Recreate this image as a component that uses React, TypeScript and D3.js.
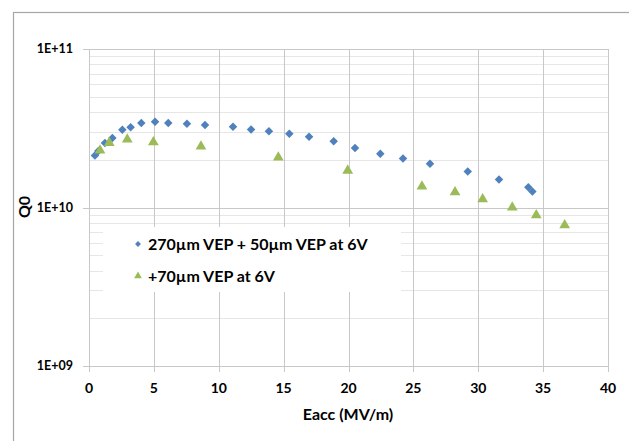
// 0- import Lib
import React from 'react';
import * as d3 from 'd3';

// 1- data: Eacc (MV/m) and Q0
const vepEacc = [
  0.46, 0.72, 1.23, 1.8, 2.57, 3.21, 4.03, 5.09, 6.11, 7.55, 8.94, 11.1, 12.49, 13.87,
  15.44, 16.96, 18.86, 20.5, 22.45, 24.2, 26.28, 29.19, 31.6, 33.86, 34.17,
];
const vepQ0 = [
  2.13e10, 2.27e10, 2.55e10, 2.74e10, 3.09e10, 3.21e10, 3.41e10, 3.47e10, 3.41e10, 3.37e10,
  3.31e10, 3.23e10, 3.1e10, 3.03e10, 2.92e10, 2.79e10, 2.62e10, 2.37e10, 2.18e10, 2.04e10,
  1.89e10, 1.69e10, 1.5e10, 1.34e10, 1.26e10,
];
const extraEacc = [0.85, 1.56, 2.95, 4.96, 8.63, 14.59, 19.94, 25.66, 28.21, 30.34, 32.62, 34.47, 36.66];
const extraQ0 = [
  2.29e10, 2.56e10, 2.69e10, 2.58e10, 2.43e10, 2.07e10, 1.71e10, 1.36e10, 1.25e10, 1.13e10,
  1.0e10, 8.94e9, 7.73e9,
];
const xTicks = [0, 5, 10, 15, 20, 25, 30, 35, 40];
const yTicks = [1e9, 1e10, 1e11];
const yTickLabels = ['1E+09', '1E+10', '1E+11'];
const seriesNames = ['270µm VEP + 50µm VEP at 6V', '+70µm VEP at 6V'];

const BLUE = '#4f81bd';
const GREEN = '#9bbb59';
const FONT = 'Lato, "Open Sans", sans-serif';

export default function App() {
  const width = 629;
  const height = 441;
  const left = 89;
  const right = 608;
  const top = 49;
  const bottom = 366;

  // A- scales
  const x = d3.scaleLinear().domain([0, 40]).range([left, right]);
  const y = d3.scaleLog().domain([1e9, 1e11]).range([bottom, top]);

  // minor log grid (2..9 in each decade)
  const minor: number[] = [];
  [1e9, 1e10].forEach((d) => {
    for (let k = 2; k <= 9; k++) minor.push(d * k);
  });

  const diamond = d3.symbol().type(d3.symbolDiamond2).size(46);
  const triangle = d3.symbol().type(d3.symbolTriangle).size(50);

  const blue = vepEacc.map((e, i) => ({ e, q: vepQ0[i] }));
  const green = extraEacc.map((e, i) => ({ e, q: extraQ0[i] }));

  return (
    <svg
      width={width}
      height={height}
      style={{ position: 'absolute', left: 0, top: 0, background: '#fff' }}
    >
      {/* chart frame */}
      <rect x={13.5} y={12.5} width={700} height={500} fill="#fff" stroke="#a6a6a6" strokeWidth={1.2} />

      {/* minor grid */}
      {minor.map((v, i) => (
        <line key={'m' + i} x1={left} x2={right} y1={Math.round(y(v)) + 0.5} y2={Math.round(y(v)) + 0.5} stroke="#e6e6e6" />
      ))}
      {/* major horizontal grid + tick marks */}
      {yTicks.map((v, i) => (
        <line key={'h' + i} x1={left - 6} x2={right} y1={Math.round(y(v)) + 0.5} y2={Math.round(y(v)) + 0.5} stroke="#c8c8c8" />
      ))}
      {/* vertical grid + tick marks */}
      {xTicks.map((t) => (
        <line key={'v' + t} x1={Math.round(x(t)) + 0.5} x2={Math.round(x(t)) + 0.5} y1={top} y2={bottom + 6} stroke="#c8c8c8" />
      ))}

      {/* tick labels */}
      {yTicks.map((v, i) => (
        <text key={'yl' + i} x={73} y={y(v)} dy="0.35em" textAnchor="end" fontFamily={FONT} fontWeight="bold" fontSize={12.5} fill="#000">
          {yTickLabels[i]}
        </text>
      ))}
      {xTicks.map((t) => (
        <text key={'xl' + t} x={x(t)} y={388} dy="0.35em" textAnchor="middle" fontFamily={FONT} fontWeight="bold" fontSize={14} fill="#000">
          {t}
        </text>
      ))}

      {/* axis titles */}
      <text x={348} y={414} dy="0.35em" textAnchor="middle" fontFamily={FONT} fontWeight="bold" fontSize={16} fill="#000">
        Eacc (MV/m)
      </text>
      <text transform="translate(24,207) rotate(-90)" dy="0.35em" textAnchor="middle" fontFamily={FONT} fontWeight="bold" fontSize={16} fill="#000">
        Q0
      </text>

      {/* legend */}
      <rect x={103} y={227} width={298} height={65} fill="#fff" />
      <path d={d3.symbol().type(d3.symbolDiamond2).size(22)()!} transform="translate(138,244)" fill={BLUE} />
      <path d={d3.symbol().type(d3.symbolTriangle).size(26)()!} transform="translate(138,276)" fill={GREEN} />
      <text x={148} y={244} dy="0.35em" fontFamily={FONT} fontWeight="bold" fontSize={16} fill="#000">
        {seriesNames[0]}
      </text>
      <text x={148} y={276} dy="0.35em" fontFamily={FONT} fontWeight="bold" fontSize={16} fill="#000">
        {seriesNames[1]}
      </text>

      {/* series */}
      {blue.map((d, i) => (
        <path key={'b' + i} d={diamond()!} transform={`translate(${x(d.e)},${y(d.q)})`} fill={BLUE} />
      ))}
      {green.map((d, i) => (
        <path key={'g' + i} d={triangle()!} transform={`translate(${x(d.e)},${y(d.q)})`} fill={GREEN} />
      ))}
    </svg>
  );
}
